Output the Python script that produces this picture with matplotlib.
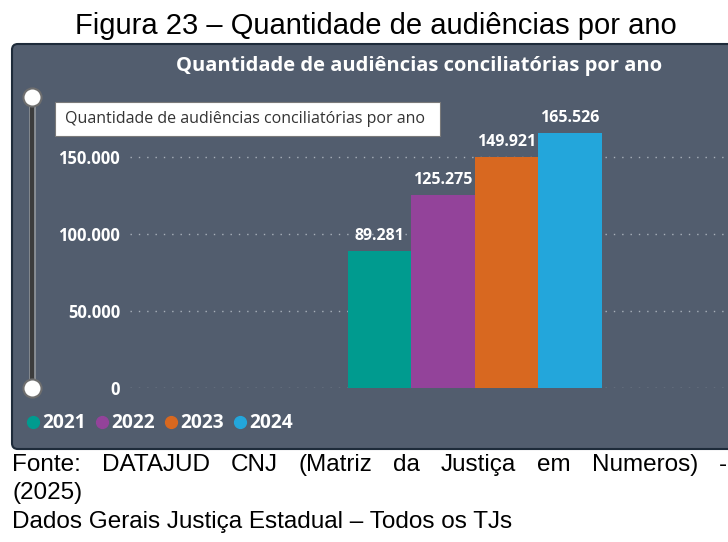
import numpy as np
import matplotlib.pyplot as plt
from matplotlib.patches import FancyBboxPatch, Rectangle
from matplotlib.lines import Line2D

anos = ['2021', '2022', '2023', '2024']
audiencias = [89281, 125275, 149921, 165526]
rotulos = ['89.281', '125.275', '149.921', '165.526']
cores = ['#009B8F', '#93439A', '#D86820', '#23A6DB']
yticks = [0, 50000, 100000, 150000]
ytick_labels = ['0', '50.000', '100.000', '150.000']

titulo_fig = 'Figura 23 – Quantidade de audiências por ano'
titulo_painel = 'Quantidade de audiências conciliatórias por ano'
fonte_linha1 = 'Fonte: DATAJUD CNJ (Matriz da Justiça em Numeros) -'
fonte_linha2 = '(2025)'
fonte_linha3 = 'Dados Gerais Justiça Estadual – Todos os TJs'

W, H = 728, 542
painel = '#525D6E'
fonte_painel = 'Open Sans'


def px(x, y):
    # coordenadas da imagem (origem no topo) -> fracao da figura
    return x / W, 1 - y / H


fig = plt.figure(figsize=(W / 100, H / 100), dpi=100)
fig.patch.set_facecolor('white')

# painel escuro
x0, y0 = px(12, 449)
fig.add_artist(FancyBboxPatch((x0, y0), 1.2, (449 - 44) / H,
                              boxstyle='round,pad=0,rounding_size=0.008',
                              mutation_aspect=W / H, transform=fig.transFigure,
                              facecolor=painel, edgecolor='#1E2B3A', lw=1.5, zorder=0))

# titulo da figura
fig.text(*px(376, 34), titulo_fig, ha='center', va='baseline',
         fontsize=21, family='Liberation Sans', color='black')

# titulo do painel
fig.text(*px(419, 66), titulo_painel, ha='center', va='center',
         fontsize=14.5, fontweight='bold', family=fonte_painel, color='white')

# eixo das barras
ax = fig.add_axes([130 / W, (H - 388) / H, (W - 130) / W, 277.2 / H])
ax.set_facecolor('none')
x = np.arange(len(anos))
ax.set_xlim(-249.5 / 63.5, (728 - 379.5) / 63.5)
ax.set_ylim(0, 180000)
for v in yticks:
    ax.axhline(v, color='#A8B0BA', lw=1, linestyle=(0, (1, 5)), zorder=1)
ax.bar(x, audiencias, width=1.0, color=cores, zorder=2)
for xi, v, r in zip(x, audiencias, rotulos):
    ax.annotate(r, (xi, v), xytext=(0, 5), textcoords='offset points',
                ha='center', va='bottom', color='white', fontsize=11.5,
                fontweight='bold', family=fonte_painel)
ax.set_yticks(yticks)
ax.set_yticklabels(ytick_labels, color='white', fontsize=12,
                   fontweight='bold', family=fonte_painel)
ax.tick_params(axis='y', length=0, pad=7)
ax.set_xticks([])
for s in ax.spines.values():
    s.set_visible(False)

# slider vertical
sx1, sy1 = px(32, 97)
sx2, sy2 = px(32, 388)
fig.add_artist(Line2D([sx1, sx2], [sy1, sy2], color='#8A8F96', lw=5,
                      transform=fig.transFigure, zorder=3))
fig.add_artist(Line2D([sx1, sx2], [sy1, sy2], color='#3C3C3C', lw=3,
                      transform=fig.transFigure, zorder=3))
for yy in (97, 388):
    fig.add_artist(Line2D([px(32, yy)[0]], [px(32, yy)[1]], marker='o',
                          markersize=13, markerfacecolor='white',
                          markeredgecolor='#6E6E6E', markeredgewidth=1.5,
                          transform=fig.transFigure, zorder=4))

# caixa de dica
bx, by = px(55, 136)
fig.add_artist(Rectangle((bx, by), (440 - 55) / W, (136 - 102) / H,
                         transform=fig.transFigure, facecolor='white',
                         edgecolor='#7A7A7A', lw=0.8, zorder=5))
fig.text(*px(65, 119), titulo_painel, ha='left', va='center',
         fontsize=11.5, family=fonte_painel, color='#333333', zorder=6)

# legenda
leg_x = [33, 102, 171, 240]
for lx, ano, c in zip(leg_x, anos, cores):
    fig.add_artist(Line2D([px(lx, 422)[0]], [px(lx, 422)[1]], marker='o',
                          markersize=8.5, color=c, linestyle='none',
                          transform=fig.transFigure))
    fig.text(*px(lx + 9, 423), ano, ha='left', va='center', fontsize=13.8,
             fontweight='bold', family=fonte_painel, color='white')

# fonte (primeira linha justificada)
tam_fonte = 17.5
renderer = fig.canvas.get_renderer()
palavras = fonte_linha1.split(' ')
textos = [fig.text(0, 0, p, fontsize=tam_fonte, family='Liberation Sans') for p in palavras]
larguras = [t.get_window_extent(renderer).width for t in textos]
esq, dir_ = 12, 727
gap = (dir_ - esq - sum(larguras)) / (len(palavras) - 1)
pos = esq
for t, w in zip(textos, larguras):
    t.set_position(px(pos, 471))
    t.set_va('baseline')
    pos += w + gap
fig.text(*px(12, 499), fonte_linha2, ha='left', va='baseline', fontsize=tam_fonte,
         family='Liberation Sans')
fig.text(*px(12, 528), fonte_linha3, ha='left', va='baseline', fontsize=tam_fonte,
         family='Liberation Sans')

fig.savefig('out.png', dpi=100)
